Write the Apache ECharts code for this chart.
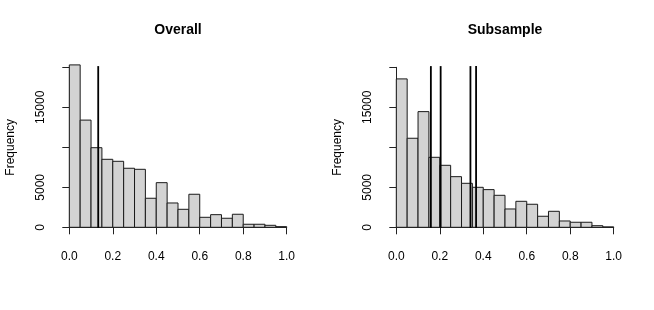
<!DOCTYPE html>
<html>
<head>
<meta charset="utf-8">
<script src="https://cdn.jsdelivr.net/npm/echarts@6/dist/echarts.min.js"></script>
<style>html,body{margin:0;padding:0;background:#fff}#c{width:654px;height:310px}</style>
</head>
<body>
<div id="c"></div>
<script>
// Histogram bins (0.05 width) from 0 to 1
const binEdges = [0,0.05,0.1,0.15,0.2,0.25,0.3,0.35,0.4,0.45,0.5,0.55,0.6,0.65,0.7,0.75,0.8,0.85,0.9,0.95,1.0];
const overallCounts = [20300,13400,9950,8500,8250,7380,7250,3630,5580,3040,2250,4130,1250,1580,1130,1630,380,380,250,80];
const subsampleCounts = [18550,11130,14460,8750,7750,6330,5500,5000,4710,4000,2290,3250,2880,1380,2000,790,630,630,200,50];
const overallLines = [0.133];
const subsampleLines = [0.159, 0.204, 0.341, 0.367];
const titles = ['Overall', 'Subsample'];
const yTicksShown = [0, 5000, 15000];
const xTickLabels = ['0.0','0.2','0.4','0.6','0.8','1.0'];

function binsData(counts){
  return counts.map((c,i)=>[binEdges[i], binEdges[i+1], c]);
}
function barRender(params, api){
  const a = api.coord([api.value(0), 0]);
  const b = api.coord([api.value(1), api.value(2)]);
  return {type:'rect', shape:{x:a[0], y:b[1], width:b[0]-a[0], height:a[1]-b[1]},
    style:{fill:'#d3d3d3', stroke:'#1a1a1a', lineWidth:1}};
}
function lineRender(params, api){
  const a = api.coord([api.value(0), 0]);
  const b = api.coord([api.value(0), 20150]);
  return {type:'line', shape:{x1:a[0], y1:a[1]+0.5, x2:b[0], y2:b[1]},
    style:{stroke:'#000', lineWidth:1.8}};
}
const font = 'Liberation Sans, Arial, Helvetica, sans-serif';
const grids = [
  {left:69.3, top:67.3, width:217.4, height:160},
  {left:396.3, top:67.3, width:217.4, height:160}
];
function xAxis(i){
  return {type:'value', gridIndex:i, min:0, max:1, interval:0.2, offset:7,
    axisLine:{show:true, lineStyle:{color:'#222', width:1}},
    axisTick:{show:true, length:7, lineStyle:{color:'#222'}},
    splitLine:{show:false},
    axisLabel:{margin:16, color:'#000', fontSize:12, fontFamily:font,
      formatter:(v)=>{const s=v.toFixed(1); return xTickLabels.indexOf(s)>=0?s:'';}}};
}
function yAxis(i){
  return {type:'value', gridIndex:i, min:0, max:20000, interval:5000, offset:9,
    name:'Frequency', nameLocation:'middle', nameRotate:90, nameGap:44,
    nameTextStyle:{color:'#000', fontSize:12, fontFamily:font},
    axisLine:{show:true, lineStyle:{color:'#222', width:1}},
    axisTick:{show:true, length:7, lineStyle:{color:'#222'}},
    splitLine:{show:false},
    axisLabel:{rotate:90, margin:14, color:'#000', fontSize:12, fontFamily:font,
      formatter:(v)=> yTicksShown.indexOf(v)>=0 ? String(v) : ''}};
}
const chart = echarts.init(document.getElementById('c'), null, {renderer:'canvas'});
chart.setOption({
  animation:false,
  backgroundColor:'#fff',
  grid:grids,
  xAxis:[xAxis(0), xAxis(1)],
  yAxis:[yAxis(0), yAxis(1)],
  graphic:[
    {type:'text', x:178, y:30, style:{text:titles[0], font:'bold 14px '+font, fill:'#000', textAlign:'center', textVerticalAlign:'middle'}},
    {type:'text', x:505, y:30, style:{text:titles[1], font:'bold 14px '+font, fill:'#000', textAlign:'center', textVerticalAlign:'middle'}}
  ],
  series:[
    {type:'custom', xAxisIndex:0, yAxisIndex:0, data:binsData(overallCounts), renderItem:barRender, clip:false},
    {type:'custom', xAxisIndex:0, yAxisIndex:0, data:overallLines.map(v=>[v]), renderItem:lineRender, clip:false},
    {type:'custom', xAxisIndex:1, yAxisIndex:1, data:binsData(subsampleCounts), renderItem:barRender, clip:false},
    {type:'custom', xAxisIndex:1, yAxisIndex:1, data:subsampleLines.map(v=>[v]), renderItem:lineRender, clip:false}
  ]
});
</script>
</body>
</html>
